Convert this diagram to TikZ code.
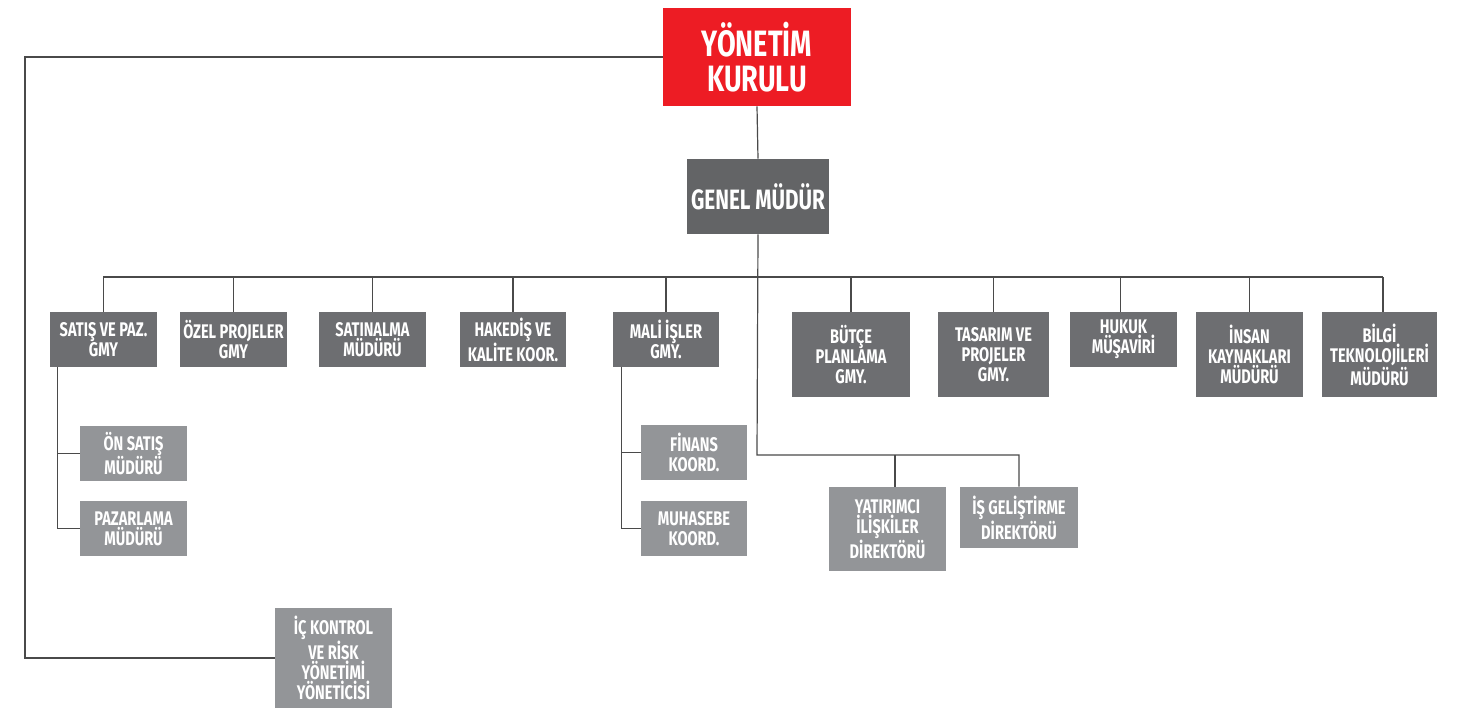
\documentclass[tikz,border=0pt]{standalone}
\usepackage{fontspec}
\usepackage{xcolor}
\newfontfamily\orgfont{Fira Sans}[FakeStretch=0.74]
\definecolor{kurul}{HTML}{ED1C24}
\definecolor{genel}{HTML}{636466}
\definecolor{birim}{HTML}{6D6E71}
\definecolor{altbirim}{HTML}{939598}
\definecolor{hatgri}{HTML}{4A4A4A}
\usetikzlibrary{calc}

\begin{document}
\begin{tikzpicture}[x=0.75pt, y=-0.75pt,
    box/.style={inner sep=0pt, align=center, text=white, font=\orgfont\bfseries\fontsize{14.8}{15}\selectfont},
    ust/.style={box, fill=birim},
    alt/.style={box, fill=altbirim},
    iki/.style={minimum height=41.25pt},
    uc/.style={minimum height=63.75pt},
    hat/.style={draw=hatgri, line width=0.9pt}]
    \useasboundingbox (0,0) rectangle (1461,709);

    % top of the chart
    \node[box, fill=kurul, minimum width=141pt, minimum height=73.5pt,
      font=\orgfont\bfseries\fontsize{27.5}{26.5}\selectfont] (yk) at (757,57) {YÖNETİM\\KURULU};
    \node[box, fill=genel, minimum width=106.5pt, minimum height=56.25pt,
      font=\orgfont\bfseries\fontsize{21}{22}\selectfont] (gm) at (758,196.5) {GENEL MÜDÜR};

    % first row
    \node[ust, iki, minimum width=80.25pt] (satis) at (103.5,339.5) {SATIŞ VE PAZ.\\GMY};
    \node[ust, iki, minimum width=80.25pt] (ozel) at (233.5,339.5) {ÖZEL PROJELER\\GMY};
    \node[ust, iki, minimum width=80.25pt] (satinalma) at (372.5,339.5) {SATINALMA\\MÜDÜRÜ};
    \node[ust, iki, minimum width=79.5pt] (hakedis) at (513,339.5) {HAKEDİŞ VE\\KALİTE KOOR.};
    \node[ust, iki, minimum width=79.5pt] (mali) at (666,339.5) {MALİ İŞLER\\GMY.};
    \node[ust, uc, minimum width=88.5pt] (butce) at (851,354.5) {BÜTÇE\\PLANLAMA\\GMY.};
    \node[ust, uc, minimum width=83.25pt] (tasarim) at (993.5,354.5) {TASARIM VE\\PROJELER\\GMY.};
    \node[ust, iki, minimum width=80.25pt] (hukuk) at (1123.5,339.5) {HUKUK\\MÜŞAVİRİ};
    \node[ust, uc, minimum width=80.25pt] (insan) at (1249.5,354.5) {İNSAN\\KAYNAKLARI\\MÜDÜRÜ};
    \node[ust, uc, minimum width=86.25pt] (bilgi) at (1379.5,354.5) {BİLGİ\\TEKNOLOJİLERİ\\MÜDÜRÜ};

    % second level
    \node[alt, iki, minimum width=80.25pt] (onsatis) at (133.5,453.5) {ÖN SATIŞ\\MÜDÜRÜ};
    \node[alt, iki, minimum width=80.25pt] (pazarlama) at (133.5,528.5) {PAZARLAMA\\MÜDÜRÜ};
    \node[alt, iki, minimum width=79.5pt] (finans) at (694,452.5) {FİNANS\\KOORD.};
    \node[alt, iki, minimum width=79.5pt] (muhasebe) at (694,528.5) {MUHASEBE\\KOORD.};
    \node[alt, minimum width=87.75pt, minimum height=63pt] (yatirimci) at (887.5,529) {YATIRIMCI\\İLİŞKİLER\\DİREKTÖRÜ};
    \node[alt, minimum width=88.5pt, minimum height=45.75pt] (isgel) at (1019,517.5) {İŞ GELİŞTİRME\\DİREKTÖRÜ};
    \node[alt, minimum width=87.75pt, minimum height=75pt] (ic) at (333.5,658) {İÇ KONTROL\\VE RİSK\\YÖNETİMİ\\YÖNETİCİSİ};

    % connectors
    \coordinate (bl) at (103,277);
    \coordinate (br) at (1383,277);
    \coordinate (yat) at (757,455);
    \coordinate (kose) at (25,400);
    \coordinate (satkol) at ([xshift=6pt]satis.south west);
    \coordinate (malikol) at ([xshift=6.75pt]mali.south west);

    \draw[hat] (yk.south) -- (gm.north);
    \draw[hat] (bl) -- (br);
    \foreach \n in {satis,ozel,satinalma,hakedis,mali,butce,tasarim,insan}
      \draw[hat] (\n.north) -- (\n.north |- bl);
    \draw[hat] ([xshift=-2.5pt]hukuk.north) -- ([xshift=-2.5pt]hukuk.north |- bl);
    \draw[hat] (bilgi.north -| br) -- (br);
    \draw[hat] (gm.south) -- (yat) -| (isgel.north);
    \draw[hat] ([xshift=5.6pt]yatirimci.north) -- ([xshift=5.6pt]yatirimci.north |- yat);
    \draw[hat] (satkol) |- (pazarlama.west);
    \draw[hat] (onsatis.west) -- (onsatis.west -| satkol);
    \draw[hat] (malikol) |- (muhasebe.west);
    \draw[hat] (finans.west) -- (finans.west -| malikol);
    \draw[hat] (yk.west) -| (kose) |- (ic.west);
\end{tikzpicture}
\end{document}
